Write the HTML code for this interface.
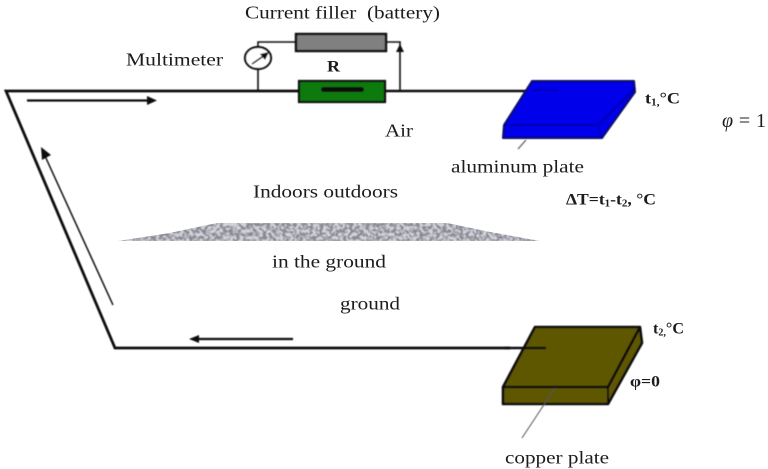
<!DOCTYPE html>
<html>
<head>
<meta charset="utf-8">
<style>
html,body{margin:0;padding:0;background:#fff;width:768px;height:469px;overflow:hidden}
svg{display:block}
text{font-family:"Liberation Serif",serif;fill:#1a1a1a}
.b{font-weight:bold}
</style>
</head>
<body>
<svg width="768" height="469" viewBox="0 0 768 469" xmlns="http://www.w3.org/2000/svg">
<defs>
<filter id="noise" x="0" y="0" width="100%" height="100%">
<feTurbulence type="fractalNoise" baseFrequency="0.3" numOctaves="2" seed="7"/>
<feColorMatrix type="matrix" values="0 0 0 0 0.25  0 0 0 0 0.25  0 0 0 0 0.3  4.5 0 0 0 -1.75"/>
<feGaussianBlur stdDeviation="0.6"/>
<feComposite in2="SourceGraphic" operator="in"/>
</filter>
<filter id="soft" x="-5%" y="-5%" width="110%" height="110%"><feGaussianBlur stdDeviation="0.4"/></filter>
<filter id="t" x="-5%" y="-20%" width="110%" height="140%"><feGaussianBlur stdDeviation="0.25"/></filter>
</defs>
<rect width="768" height="469" fill="#fff"/>

<polygon points="118,241 170,233 217,223 447,223 490,232 540,241" fill="#d4d4da"/>
<polygon points="118,241 170,233 217,223 447,223 490,232 540,241" fill="#000" filter="url(#noise)"/>

<g filter="url(#soft)">
<polyline points="300,91 6,91 115,348 510,348" fill="none" stroke="#111" stroke-width="2.8"/>
<line x1="385" y1="91" x2="535" y2="91" stroke="#111" stroke-width="2.4"/>

<line x1="27" y1="100.5" x2="148" y2="100.5" stroke="#111" stroke-width="2.2"/>
<polygon points="157,100.5 147,96 147,105" fill="#111"/>
<line x1="113" y1="305" x2="45" y2="156" stroke="#111" stroke-width="1.5"/>
<polygon points="41,147 51,155 42,160" fill="#111"/>
<line x1="293" y1="339" x2="198" y2="339" stroke="#111" stroke-width="2.2"/>
<polygon points="189,339 199,335 199,343" fill="#111"/>

<polyline points="258,91 258,42 296,42" fill="none" stroke="#111" stroke-width="1.6"/>
<polyline points="386,42 400,42 400,91" fill="none" stroke="#111" stroke-width="1.6"/>
<polygon points="400,44 396,52 404,52" fill="#111"/>
<rect x="296" y="34" width="90" height="17" fill="#808080" stroke="#111" stroke-width="2.4"/>
<rect x="299" y="81" width="86" height="21" fill="#0b7a10" stroke="#111" stroke-width="2.2"/>
<rect x="321" y="87" width="43" height="5" rx="2.5" fill="#0a0a0a"/>
<ellipse cx="258" cy="58" rx="13" ry="11" fill="#fff" stroke="#111" stroke-width="2.2"/>
<line x1="252" y1="64" x2="265" y2="55" stroke="#111" stroke-width="1.6"/>
<polygon points="269,52 260,54 265,60" fill="#111"/>

<polygon points="532,81 634,81 635,92 602,138 503,138 504,125" fill="#0505ea" stroke="#0a0a60" stroke-width="2" stroke-linejoin="round"/>
<polyline points="504,125 598,125 635,88" fill="none" stroke="#0303a8" stroke-width="1.8"/>
<line x1="598" y1="125" x2="602" y2="138" stroke="#0303a8" stroke-width="1"/>
<line x1="532" y1="90" x2="558" y2="90" stroke="#0303a8" stroke-width="1.8"/>
<line x1="526" y1="140" x2="518" y2="149" stroke="#555" stroke-width="1.2"/>

<polygon points="535,327 640,327 642,343 608,404 503,404 503,387" fill="#5f5603" stroke="#111" stroke-width="2.6" stroke-linejoin="round"/>
<polyline points="503,387 608,387 640,327" fill="none" stroke="#111" stroke-width="2.6"/>
<line x1="608" y1="387" x2="608" y2="404" stroke="#111" stroke-width="2"/>
<line x1="505" y1="348" x2="546" y2="348" stroke="#111" stroke-width="2.6"/>
<line x1="555" y1="388" x2="522" y2="438" stroke="#555" stroke-width="1"/>
</g>

<g filter="url(#t)">
<text x="245" y="18.5" font-size="17.5" textLength="195" lengthAdjust="spacingAndGlyphs" xml:space="preserve">Current filler  (battery)</text>
<text x="126" y="65.5" font-size="17.5" textLength="97" lengthAdjust="spacingAndGlyphs">Multimeter</text>
<text x="327" y="71.5" font-size="16" class="b" textLength="13" lengthAdjust="spacingAndGlyphs">R</text>
<text x="385" y="136.5" font-size="17.5" textLength="28" lengthAdjust="spacingAndGlyphs">Air</text>
<text x="645" y="103.5" font-size="16" class="b" textLength="35" lengthAdjust="spacingAndGlyphs">t<tspan font-size="10" dy="2">1,</tspan><tspan dy="-2">°C</tspan></text>
<text x="722" y="127" font-size="20" font-style="italic" textLength="44" lengthAdjust="spacing">φ<tspan font-style="normal">=1</tspan></text>
<text x="451" y="172.5" font-size="17.5" textLength="133" lengthAdjust="spacingAndGlyphs">aluminum plate</text>
<text x="566" y="204.5" font-size="16" class="b" textLength="90" lengthAdjust="spacingAndGlyphs">ΔT=t<tspan font-size="10" dy="2">1</tspan><tspan dy="-2">-t</tspan><tspan font-size="10" dy="2">2</tspan><tspan dy="-2">, °C</tspan></text>
<text x="253" y="197.5" font-size="17.5" textLength="145" lengthAdjust="spacingAndGlyphs">Indoors outdoors</text>
<text x="272" y="267.5" font-size="17.5" textLength="114" lengthAdjust="spacingAndGlyphs">in the ground</text>
<text x="340" y="309.5" font-size="17.5" textLength="60" lengthAdjust="spacingAndGlyphs">ground</text>
<text x="653" y="333.5" font-size="16" class="b" textLength="31" lengthAdjust="spacingAndGlyphs">t<tspan font-size="10" dy="2">2,</tspan><tspan dy="-2">°C</tspan></text>
<text x="630" y="386.5" font-size="16" class="b" textLength="30" lengthAdjust="spacingAndGlyphs">φ=0</text>
<text x="505" y="463.5" font-size="17.5" textLength="104" lengthAdjust="spacingAndGlyphs">copper plate</text>
</g>
</svg>
</body>
</html>
